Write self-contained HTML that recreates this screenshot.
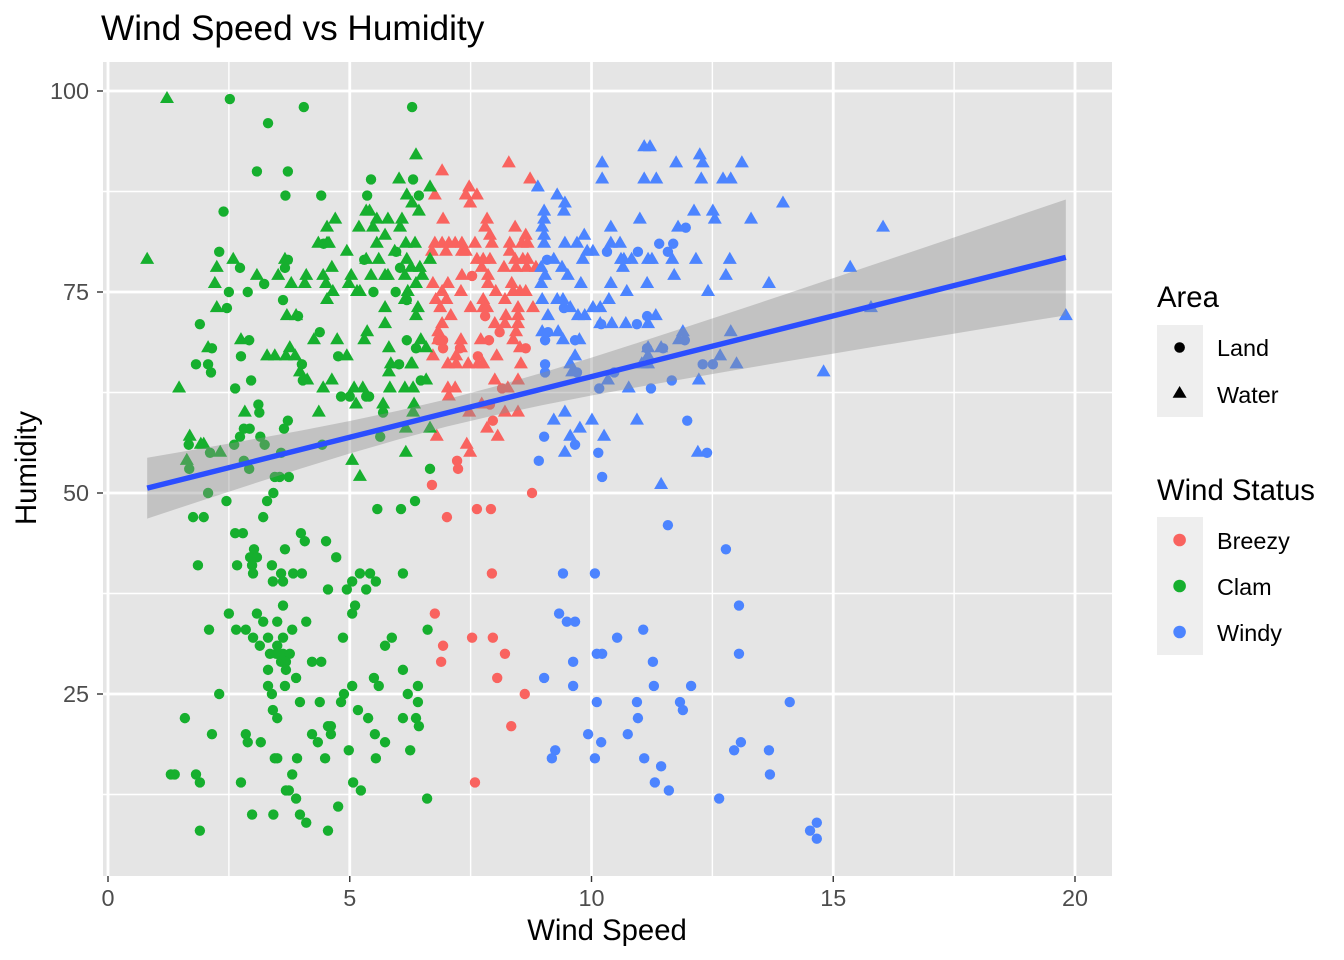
<!DOCTYPE html>
<html lang="en">
<head>
<meta charset="utf-8">
<title>Wind Speed vs Humidity</title>
<style>
html,body{margin:0;padding:0;background:#fff;}
svg{display:block;font-family:"Liberation Sans",Arial,sans-serif;}
</style>
</head>
<body>
<svg id="chart" xmlns="http://www.w3.org/2000/svg" width="1344" height="960" viewBox="0 0 1344 960">
  <rect x="103" y="62" width="1009" height="814" fill="#e5e5e5"/>
  <g id="grid"></g>
  <g id="points"></g>
  <g id="smooth"></g>
  <g id="axes"></g>

  <text x="101" y="40" font-size="35.2" fill="#000">Wind Speed vs Humidity</text>
  <text x="607" y="940" font-size="29.3" fill="#000" text-anchor="middle">Wind Speed</text>
  <text transform="translate(36 468) rotate(-90)" font-size="29.3" fill="#000" text-anchor="middle">Humidity</text>

  <g>
    <text x="1157" y="307" font-size="29.3" fill="#000">Area</text>
    <rect x="1157" y="325" width="46" height="92" fill="#eeeeee"/>
    <circle cx="1179.6" cy="347.5" r="5.3" fill="#000"/>
    <polygon points="1179.6,386 1186.6,397.7 1172.6,397.7" fill="#000"/>
    <text x="1217" y="356" font-size="23.4" fill="#000">Land</text>
    <text x="1217" y="403" font-size="23.4" fill="#000">Water</text>
  </g>

  <g>
    <text x="1157" y="500" font-size="29.3" fill="#000">Wind Status</text>
    <rect x="1157" y="517" width="46" height="138" fill="#eeeeee"/>
    <circle cx="1179.6" cy="540" r="6.3" fill="#f9635f"/>
    <circle cx="1179.6" cy="586" r="6.3" fill="#16af2e"/>
    <circle cx="1179.6" cy="632" r="6.3" fill="#4c84ff"/>
    <text x="1217" y="549" font-size="23.4" fill="#000">Breezy</text>
    <text x="1217" y="595" font-size="23.4" fill="#000">Clam</text>
    <text x="1217" y="641" font-size="23.4" fill="#000">Windy</text>
  </g>
</svg>
<script>
const xTicks = [0, 5, 10, 15, 20];
const yTicks = [25, 50, 75, 100];
const xMinorTicks = [2.5, 7.5, 12.5, 17.5];
const yMinorTicks = [12.5, 37.5, 62.5, 87.5];

const breezyWater = [[8.29,91],[6.91,90],[8.73,89],[7.47,88],[7.63,87],[7.4,87],[6.76,87],[7.49,86],[6.93,84],[7.84,84],[8.42,83],[7.8,83],[8.64,82],[7.9,82],[6.76,81],[6.91,81],[7.05,81],[7.18,81],[7.32,81],[7.59,81],[7.94,81],[8.31,81],[8.56,81],[8.68,81],[6.7,80],[6.99,80],[7.32,80],[7.4,80],[8.31,80],[7.63,79],[7.76,79],[7.9,79],[8.42,79],[8.58,79],[8.68,79],[7.73,78],[8.19,78],[8.44,78],[8.66,78],[8.85,78],[7.32,77],[7.86,77],[6.72,76],[7.03,76],[7.86,76],[8.35,76],[6.91,75],[7.3,75],[8.02,75],[8.38,75],[8.52,75],[8.64,75],[6.78,74],[7.0,74],[7.76,74],[8.21,74],[6.87,73],[7.5,73],[7.76,73],[7.84,73],[8.48,73],[8.79,73],[7.09,72],[8.23,72],[8.48,72],[8.0,71],[8.21,71],[8.48,71],[6.91,71],[6.83,70],[8.44,70],[7.3,69],[7.71,69],[8.38,69],[6.83,69],[8.52,68],[7.3,68],[6.72,67],[8.04,67],[7.2,67],[7.03,66],[7.2,66],[7.45,66],[7.65,66],[7.76,66],[8.54,66],[8.0,64],[8.48,64],[7.03,63],[7.18,63],[8.27,63],[7.05,62],[7.73,61],[7.47,60],[8.21,60],[8.48,60],[7.84,58],[6.8,57],[8.06,57],[7.42,56],[7.49,55]];
const breezyLand = [[7.53,77],[6.83,69],[6.93,69],[6.93,68],[7.28,68],[7.8,72],[7.88,69],[8.1,70],[8.64,68],[7.65,67],[8.15,63],[7.9,61],[7.96,59],[7.22,54],[6.7,51],[7.24,53],[8.77,50],[7.01,47],[7.63,48],[7.92,48],[7.94,40],[6.76,35],[7.53,32],[7.96,32],[6.93,31],[6.89,29],[8.21,30],[8.05,27],[8.62,25],[8.34,21],[7.59,14]];
const clamWater = [[1.22,99],[0.81,79],[6.37,92],[6.02,89],[6.18,87],[6.29,86],[6.43,85],[6.66,88],[5.34,85],[5.41,85],[4.7,84],[5.56,84],[5.79,84],[6.08,84],[4.53,83],[5.19,83],[5.48,83],[6.04,83],[5.73,82],[5.56,81],[4.35,81],[4.53,81],[4.57,81],[6.16,81],[6.35,81],[4.94,80],[5.93,80],[3.66,79],[5.34,79],[5.6,79],[6.18,79],[6.66,79],[2.59,79],[2.25,78],[4.63,78],[6.27,78],[6.45,78],[3.08,77],[3.52,77],[4.1,77],[4.45,77],[5.03,77],[5.44,77],[5.73,77],[5.79,77],[6.14,77],[6.5,77],[2.21,76],[3.79,76],[4.07,76],[4.51,76],[4.98,76],[6.37,76],[4.65,75],[5.15,75],[5.21,75],[6.2,75],[4.53,74],[6.14,74],[2.25,73],[5.73,73],[6.41,73],[3.7,72],[3.89,72],[6.37,72],[5.73,71],[5.36,70],[2.75,69],[4.26,69],[4.74,69],[5.3,69],[6.47,69],[2.07,68],[3.76,68],[5.81,68],[6.58,68],[3.29,67],[3.45,67],[3.68,67],[3.87,67],[4.94,67],[5.85,66],[6.27,66],[6.29,66],[3.97,65],[5.81,65],[4.12,64],[4.63,64],[6.58,64],[1.47,63],[4.45,63],[5.09,63],[5.27,63],[5.83,63],[6.14,63],[6.31,63],[5.13,61],[5.69,61],[6.33,61],[2.83,60],[4.36,60],[6.31,60],[6.66,58],[6.16,58],[1.69,57],[1.92,56],[1.98,56],[2.32,55],[6.16,55],[1.63,54],[5.05,54],[5.21,52]];
const clamLand = [[2.52,99],[4.05,98],[6.29,98],[3.31,96],[3.08,90],[3.72,90],[3.67,87],[4.41,87],[5.36,87],[5.44,89],[6.31,89],[6.43,87],[2.39,85],[2.3,80],[2.73,78],[3.72,79],[3.66,78],[4.46,81],[5.3,79],[5.96,80],[6.04,78],[3.23,76],[2.5,75],[2.89,75],[5.49,75],[5.95,75],[3.62,74],[2.46,73],[6.18,74],[3.93,72],[1.9,71],[2.15,68],[2.92,69],[2.75,67],[1.82,66],[2.07,66],[2.13,65],[2.96,64],[2.63,63],[4.38,70],[4.76,67],[4.01,66],[4.03,64],[6.18,69],[6.37,68],[6.02,66],[6.47,64],[4.82,62],[5.0,62],[5.34,62],[5.4,62],[3.11,61],[3.13,60],[5.69,60],[3.72,59],[3.64,58],[2.81,58],[2.93,58],[2.73,57],[3.15,57],[5.63,57],[1.67,56],[2.61,56],[3.24,56],[2.11,55],[3.58,55],[4.43,56],[2.81,54],[1.68,53],[2.92,53],[6.66,53],[3.45,52],[3.55,52],[3.74,52],[2.07,50],[3.42,50],[2.45,49],[3.29,49],[6.35,49],[5.57,48],[6.06,48],[1.76,47],[1.98,47],[3.21,47],[2.63,45],[2.79,45],[3.99,45],[4.07,44],[4.51,44],[3.02,43],[3.66,43],[2.94,42],[3.08,42],[4.72,42],[1.86,41],[2.67,41],[2.98,41],[3.39,41],[3.0,40],[3.58,40],[3.83,40],[4.01,40],[3.41,39],[3.62,39],[5.21,40],[5.42,40],[6.1,40],[5.05,39],[5.54,39],[4.55,38],[4.94,38],[5.34,38],[5.11,36],[3.62,36],[5.05,35],[2.5,35],[3.08,35],[3.21,34],[3.5,34],[4.1,34],[2.09,33],[2.65,33],[2.85,33],[3.81,33],[6.61,33],[3.0,32],[3.31,32],[3.62,32],[4.86,32],[5.87,32],[3.14,31],[3.5,31],[5.73,31],[3.35,30],[3.48,30],[3.62,30],[3.76,30],[3.58,29],[3.68,29],[4.22,29],[4.41,29],[3.31,28],[3.68,28],[6.1,28],[3.89,27],[5.5,27],[3.31,26],[3.66,26],[5.05,26],[5.6,26],[6.41,26],[3.39,25],[2.3,25],[4.88,25],[6.2,25],[3.97,24],[4.38,24],[4.82,24],[6.41,24],[3.41,23],[5.17,23],[3.5,22],[1.59,22],[5.38,22],[6.1,22],[6.37,22],[6.43,21],[4.55,21],[4.61,21],[4.61,20],[2.15,20],[2.85,20],[4.22,20],[5.52,20],[2.89,19],[3.16,19],[4.34,19],[5.73,19],[4.98,18],[6.25,18],[3.45,17],[3.5,17],[3.91,17],[4.49,17],[5.54,17],[1.3,15],[1.38,15],[1.82,15],[3.81,15],[1.9,14],[2.75,14],[5.07,14],[5.23,13],[3.68,13],[3.74,13],[3.89,12],[6.6,12],[4.76,11],[2.98,10],[3.42,10],[3.97,10],[4.1,9],[1.9,8],[4.55,8]];
const windyWater = [[11.09,93],[11.21,93],[12.24,92],[10.22,91],[11.75,91],[12.3,91],[13.11,91],[10.22,89],[11.09,89],[11.34,89],[12.27,89],[12.72,89],[12.88,89],[8.89,88],[9.29,87],[9.45,86],[13.96,86],[9.43,85],[9.02,85],[12.12,85],[12.51,85],[9.02,84],[11.0,84],[12.55,84],[13.3,84],[10.4,83],[8.98,83],[11.79,83],[16.03,83],[9.85,82],[9.02,82],[9.45,81],[9.7,81],[9.02,81],[10.4,81],[10.59,81],[9.91,80],[10.03,80],[9.22,79],[9.82,79],[10.61,79],[10.67,79],[10.83,79],[11.17,79],[11.25,79],[11.67,79],[12.16,79],[12.86,79],[9.39,78],[10.65,78],[8.96,78],[15.35,78],[9.51,77],[9.04,77],[11.71,77],[12.78,77],[9.78,76],[8.96,76],[10.4,76],[11.15,76],[13.67,76],[10.73,75],[12.41,75],[8.98,74],[9.29,74],[9.41,74],[10.36,74],[9.56,73],[10.03,73],[10.18,73],[15.78,73],[9.1,72],[9.72,72],[9.86,72],[11.33,72],[19.81,72],[10.18,71],[10.42,71],[10.71,71],[11.17,71],[8.98,70],[9.31,70],[11.89,70],[12.88,70],[9.41,69],[9.75,69],[11.81,69],[11.17,68],[11.44,68],[9.66,67],[11.17,67],[12.66,67],[9.56,66],[13.0,66],[11.04,66],[11.17,66],[9.6,65],[14.8,65],[10.34,64],[12.22,64],[10.77,63],[9.45,60],[9.22,59],[10.01,59],[10.94,59],[9.76,58],[9.56,57],[10.26,57],[9.45,55],[12.2,55],[11.44,51]];
const windyLand = [[11.95,83],[11.4,81],[11.69,81],[11.58,80],[10.96,80],[10.32,80],[9.08,79],[9.43,73],[11.15,72],[10.94,71],[10.2,71],[9.1,70],[9.04,69],[9.66,69],[9.04,66],[9.04,65],[9.7,65],[10.47,65],[11.15,68],[11.48,68],[11.93,69],[12.3,66],[12.51,66],[10.16,63],[11.66,64],[11.23,63],[11.98,59],[9.02,57],[9.66,56],[8.91,54],[10.14,55],[10.22,52],[12.39,55],[11.58,46],[12.78,43],[9.41,40],[10.07,40],[13.05,36],[9.33,35],[9.49,34],[9.66,34],[11.07,33],[10.53,32],[13.05,30],[10.11,30],[10.22,30],[11.27,29],[9.62,29],[9.02,27],[9.62,26],[11.29,26],[12.06,26],[10.11,24],[10.94,24],[11.83,24],[14.1,24],[11.89,23],[10.96,22],[10.2,19],[10.75,20],[9.93,20],[13.09,19],[9.25,18],[12.95,18],[13.67,18],[9.18,17],[10.07,17],[11.09,17],[11.44,16],[13.69,15],[11.31,14],[11.6,13],[12.64,12],[14.66,9],[14.52,8],[14.66,7]];

const smoothSpeed = [0.81, 2, 3, 4, 5, 6, 7, 8, 9, 10, 11, 12, 13, 14, 15, 16, 17, 18, 19, 19.81];
const smoothFit = [50.6, 52.4, 53.91, 55.42, 56.93, 58.44, 59.95, 61.46, 62.97, 64.48, 65.99, 67.5, 69.01, 70.52, 72.03, 73.54, 75.05, 76.56, 78.08, 79.3];
const smoothUpper = [54.38, 55.62, 56.68, 57.78, 58.95, 60.23, 61.65, 63.25, 64.99, 66.84, 68.76, 70.72, 72.7, 74.7, 76.72, 78.74, 80.77, 82.8, 84.85, 86.5];
const smoothLower = [46.82, 49.18, 51.14, 53.06, 54.91, 56.65, 58.25, 59.67, 60.95, 62.12, 63.22, 64.28, 65.32, 66.34, 67.34, 68.34, 69.33, 70.32, 71.31, 72.1];

const SVG_NS = 'http://www.w3.org/2000/svg';
const scaleX = function (v) { return 108 + v * 48.35; };
const scaleY = function (v) { return 91 + (100 - v) * 8.04; };
const gridLayer = document.getElementById('grid');
const pointLayer = document.getElementById('points');
const smoothLayer = document.getElementById('smooth');
const axisLayer = document.getElementById('axes');

function drawLine(parent, x1, y1, x2, y2, stroke, width, name) {
  const el = document.createElementNS(SVG_NS, 'line');
  el.setAttribute('x1', x1);
  el.setAttribute('y1', y1);
  el.setAttribute('x2', x2);
  el.setAttribute('y2', y2);
  el.setAttribute('stroke', stroke);
  el.setAttribute('stroke-width', width);
  
  
  parent.appendChild(el);
}

function drawLabel(x, y, anchor, value, name) {
  const el = document.createElementNS(SVG_NS, 'text');
  el.setAttribute('x', x);
  el.setAttribute('y', y);
  el.setAttribute('text-anchor', anchor);
  el.setAttribute('font-size', '23.4');
  el.setAttribute('fill', '#4d4d4d');
  
  
  el.textContent = value;
  axisLayer.appendChild(el);
}

xMinorTicks.forEach(function (v) { drawLine(gridLayer, scaleX(v), 62, scaleX(v), 876, '#fff', 1.4, 'x-minor-gridline'); });
yMinorTicks.forEach(function (v) { drawLine(gridLayer, 103, scaleY(v), 1112, scaleY(v), '#fff', 1.4, 'y-minor-gridline'); });
xTicks.forEach(function (v) {
  drawLine(gridLayer, scaleX(v), 62, scaleX(v), 876, '#fff', 2.8, 'x-major-gridline');
  drawLine(axisLayer, scaleX(v), 876, scaleX(v), 882, '#333', 1.4, 'x-tick');
  drawLabel(scaleX(v), 906, 'middle', String(v), 'x-tick-label');
});
yTicks.forEach(function (v) {
  drawLine(gridLayer, 103, scaleY(v), 1112, scaleY(v), '#fff', 2.8, 'y-major-gridline');
  drawLine(axisLayer, 97, scaleY(v), 103, scaleY(v), '#333', 1.4, 'y-tick');
  drawLabel(89, scaleY(v) + 8, 'end', String(v), 'y-tick-label');
});

function drawCircle(d, color) {
  const el = document.createElementNS(SVG_NS, 'circle');
  el.setAttribute('cx', scaleX(d[0]));
  el.setAttribute('cy', scaleY(d[1]));
  el.setAttribute('r', 5.2);
  el.setAttribute('fill', color);
  
  
  pointLayer.appendChild(el);
}

function drawTriangle(d, color) {
  const cx = scaleX(d[0]);
  const cy = scaleY(d[1]);
  const el = document.createElementNS(SVG_NS, 'polygon');
  el.setAttribute('points', cx + ',' + (cy - 8.1) + ' ' + (cx + 7) + ',' + (cy + 4) + ' ' + (cx - 7) + ',' + (cy + 4));
  el.setAttribute('fill', color);
  
  
  pointLayer.appendChild(el);
}

breezyLand.forEach(function (d) { drawCircle(d, '#f9635f'); });
breezyWater.forEach(function (d) { drawTriangle(d, '#f9635f'); });
clamLand.forEach(function (d) { drawCircle(d, '#16af2e'); });
clamWater.forEach(function (d) { drawTriangle(d, '#16af2e'); });
windyLand.forEach(function (d) { drawCircle(d, '#4c84ff'); });
windyWater.forEach(function (d) { drawTriangle(d, '#4c84ff'); });

const upperPath = smoothSpeed.map(function (s, i) { return scaleX(s) + ',' + scaleY(smoothUpper[i]); });
const lowerPath = smoothSpeed.map(function (s, i) { return scaleX(s) + ',' + scaleY(smoothLower[i]); }).reverse();
const ribbon = document.createElementNS(SVG_NS, 'polygon');
ribbon.setAttribute('points', upperPath.concat(lowerPath).join(' '));
ribbon.setAttribute('fill', '#8f8f8f');
ribbon.setAttribute('fill-opacity', '0.4');


smoothLayer.appendChild(ribbon);

const trend = document.createElementNS(SVG_NS, 'polyline');
trend.setAttribute('points', smoothSpeed.map(function (s, i) { return scaleX(s) + ',' + scaleY(smoothFit[i]); }).join(' '));
trend.setAttribute('fill', 'none');
trend.setAttribute('stroke', '#2b4eff');
trend.setAttribute('stroke-width', '5.4');


smoothLayer.appendChild(trend);
</script>
</body>
</html>
